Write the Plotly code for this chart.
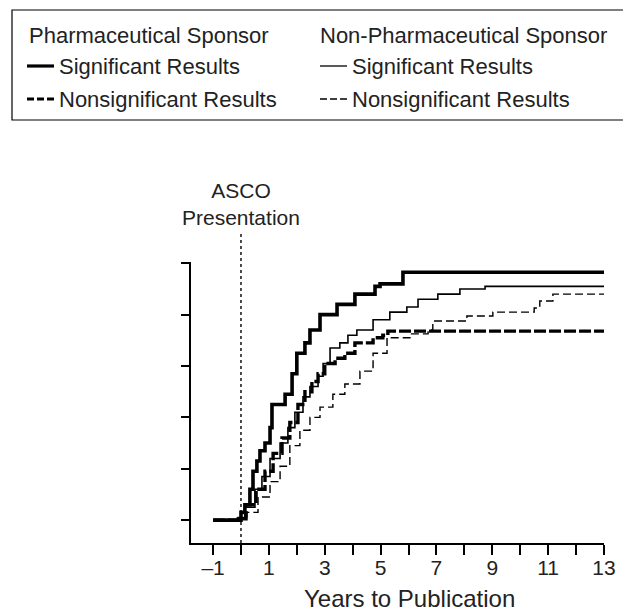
import plotly.graph_objects as go

# Cumulative proportion of abstracts published, by years after the ASCO meeting
pharma_sig_years = [-1, -0.18, 0, 0.14, 0.32, 0.43, 0.57, 0.68, 0.86, 1.04, 1.11, 1.40,
                    1.58, 1.83, 2.0, 2.29, 2.47, 2.83, 3.44, 4.08, 4.80, 4.98, 5.80, 13]
pharma_sig_prop = [0, 0, 0.03, 0.06, 0.12, 0.19, 0.23, 0.27, 0.30, 0.36, 0.45, 0.45,
                   0.49, 0.57, 0.65, 0.69, 0.74, 0.80, 0.84, 0.88, 0.91, 0.92, 0.965, 0.965]

nonpharma_sig_years = [-1, -0.1, 0.14, 0.5, 0.75, 1.04, 1.40, 1.68, 1.93, 2.22, 2.47, 2.76,
                       2.94, 3.19, 3.54, 3.83, 4.15, 4.73, 5.33, 5.94, 6.34, 7.05, 7.84, 8.74, 13]
nonpharma_sig_prop = [0, 0.01, 0.05, 0.12, 0.17, 0.24, 0.30, 0.36, 0.42, 0.48, 0.52, 0.56,
                      0.61, 0.67, 0.69, 0.72, 0.74, 0.78, 0.81, 0.83, 0.86, 0.88, 0.90, 0.91, 0.91]

pharma_nonsig_years = [-1, -0.1, 0.18, 0.54, 0.86, 1.15, 1.47, 1.75, 2.04, 2.29, 2.54, 2.76,
                       3.0, 3.37, 3.72, 4.08, 4.73, 5.08, 5.26, 13]
pharma_nonsig_prop = [0, 0.005, 0.06, 0.12, 0.19, 0.26, 0.32, 0.38, 0.45, 0.50, 0.54, 0.57,
                      0.61, 0.63, 0.65, 0.69, 0.71, 0.72, 0.736, 0.736]

nonpharma_nonsig_years = [-1, -0.04, 0.21, 0.61, 1.04, 1.40, 1.75, 2.11, 2.47, 2.83, 3.29,
                          3.72, 4.26, 4.73, 5.23, 6.05, 6.70, 6.87, 8.09, 9.02, 10.5, 10.7,
                          11.17, 13]
nonpharma_nonsig_prop = [0, 0.005, 0.03, 0.09, 0.15, 0.21, 0.29, 0.35, 0.40, 0.44, 0.49,
                         0.53, 0.58, 0.65, 0.71, 0.725, 0.74, 0.775, 0.795, 0.81, 0.826,
                         0.853, 0.88, 0.88]

x_ticks = list(range(-1, 14))
x_tick_text = ["\u20131" if v == -1 else (str(v) if v % 2 else "") for v in x_ticks]
y_ticks = [0, 0.2, 0.4, 0.6, 0.8, 1.0]

W, H = 623, 613
ML, MR, MT, MB = 191, 19, 262, 70
FONT = "Liberation Sans, Arial, Helvetica, sans-serif"
TEXT = "#222"

fig = go.Figure()

series = [
    (nonpharma_nonsig_years, nonpharma_nonsig_prop, 1.4, "8px,4px"),
    (nonpharma_sig_years, nonpharma_sig_prop, 1.6, "solid"),
    (pharma_nonsig_years, pharma_nonsig_prop, 3.4, "12px,3px"),
    (pharma_sig_years, pharma_sig_prop, 3.6, "solid"),
]
for xs, ys, w, dash in series:
    fig.add_trace(go.Scatter(x=xs, y=ys, mode="lines", line_shape="hv",
                             line=dict(color="black", width=w, dash=dash),
                             showlegend=False, hoverinfo="skip"))


def px_x(p):
    return (p - ML) / (W - ML - MR)


def px_y(p):
    return 1 - (p - MT) / (H - MT - MB)


shapes = []
# ASCO presentation marker at year 0
shapes.append(dict(type="line", xref="x", yref="paper", x0=0, x1=0,
                   y0=0, y1=px_y(232), line=dict(color="black", width=1.4, dash="dot")))

# legend frame
shapes.append(dict(type="rect", xref="paper", yref="paper",
                   x0=px_x(12), x1=px_x(640), y0=px_y(10), y1=px_y(120),
                   line=dict(color="black", width=1.2)))

legend_rows = [
    (27, 54, 66, 3.2, "solid"),
    (27, 54, 99, 3.2, "7px,3px"),
    (320, 347, 66, 1.3, "solid"),
    (320, 347, 99, 1.3, "7px,3px"),
]
for xa, xb, yy, w, dash in legend_rows:
    shapes.append(dict(type="line", xref="paper", yref="paper",
                       x0=px_x(xa), x1=px_x(xb), y0=px_y(yy), y1=px_y(yy),
                       line=dict(color="black", width=w, dash=dash)))

annotations = []
legend_texts = [
    (27, 35, "Pharmaceutical Sponsor"),
    (57, 66, "Significant Results"),
    (57, 99, "Nonsignificant Results"),
    (318, 35, "Non-Pharmaceutical Sponsor"),
    (350, 66, "Significant Results"),
    (350, 99, "Nonsignificant Results"),
]
for xx, yy, t in legend_texts:
    annotations.append(dict(xref="paper", yref="paper", x=px_x(xx), y=px_y(yy),
                            xanchor="left", yanchor="middle", text=t, showarrow=False,
                            font=dict(size=22, color=TEXT, family=FONT)))

annotations.append(dict(xref="x", yref="paper", x=0, y=px_y(204),
                        xanchor="center", yanchor="middle",
                        text="ASCO<br>Presentation", showarrow=False,
                        font=dict(size=21, color=TEXT, family=FONT)))

# axis title
annotations.append(dict(xref="paper", yref="paper", x=px_x(409), y=px_y(598),
                        xanchor="center", yanchor="middle",
                        text="Years to Publication", showarrow=False,
                        font=dict(size=24, color=TEXT, family=FONT)))

fig.update_layout(
    width=W, height=H,
    margin=dict(l=ML, r=MR, t=MT, b=MB),
    paper_bgcolor="white", plot_bgcolor="white",
    font=dict(family=FONT, color=TEXT),
    shapes=shapes, annotations=annotations,
)

fig.update_xaxes(
    range=[-1.79, 13], tickmode="array", tickvals=x_ticks, ticktext=x_tick_text,
    showline=True, linecolor="black", linewidth=1.5, showgrid=False, zeroline=False,
    ticks="outside", ticklen=10, tickwidth=1.5, tickcolor="black", automargin=False,
    ticklabelstandoff=-5,
    tickfont=dict(size=21, family=FONT, color=TEXT),
)
fig.update_yaxes(
    range=[-0.0891, 1.005], tickmode="array", tickvals=y_ticks, showticklabels=False,
    showline=True, linecolor="black", linewidth=1.5, showgrid=False, zeroline=False,
    ticks="outside", ticklen=8, tickwidth=1.5, tickcolor="black", automargin=False,
)

fig.write_html("out.html")
